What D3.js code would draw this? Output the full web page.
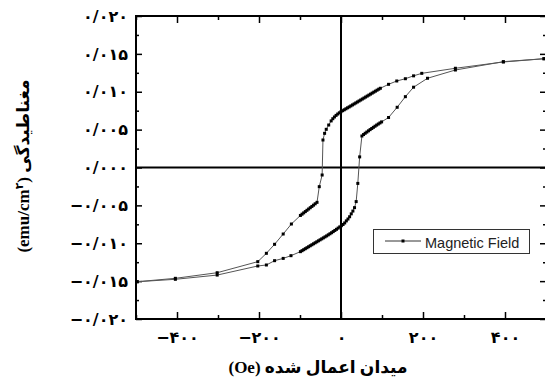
<!DOCTYPE html>
<html>
<head>
<meta charset="utf-8">
<script src="https://cdn.jsdelivr.net/npm/d3@7/dist/d3.min.js"></script>
<style>
body { margin: 0; background: #fff; }
svg { display: block; }
</style>
</head>
<body>
<div id="chart"></div>
<script>
// descending branch (field from +max to -max), [H (Oe), M (emu/cm2)]
const branchDown = [
    [495, 0.01436], [396, 0.01393], [279, 0.0131], [197, 0.01243], [177, 0.0121],
    [157, 0.01172], [136, 0.01142], [116, 0.01098], [96, 0.01046],
    [92, 0.01034], [88, 0.01021], [84, 0.01008], [80, 0.00995], [76, 0.00982],
    [72, 0.00969], [68, 0.00956], [64, 0.00943], [60, 0.0093], [56, 0.00917],
    [52, 0.00904], [48, 0.00891], [44, 0.00878], [40, 0.00865], [36, 0.00852],
    [32, 0.00839], [28, 0.00826], [24, 0.00813], [20, 0.008], [16, 0.00788],
    [12, 0.00775], [8, 0.00762], [4, 0.0075], [0, 0.00737], [-4, 0.00722],
    [-8, 0.00706], [-12, 0.00688], [-16, 0.00667], [-20, 0.00644], [-24, 0.00615],
    [-30, 0.00561], [-36, 0.00504], [-40, 0.00451], [-44, 0.00363],
    [-46, -0.00099], [-53, -0.00253], [-58.5, -0.0046],
    [-63, -0.00479], [-67, -0.00497], [-71, -0.00514], [-75, -0.00531],
    [-79, -0.00548], [-83, -0.00565], [-87, -0.00582], [-91, -0.00599],
    [-95, -0.00616], [-99, -0.00633],
    [-121, -0.00746], [-141, -0.00878], [-162, -0.01014], [-182, -0.01133],
    [-203, -0.01243], [-302, -0.01389], [-404, -0.01463], [-497, -0.01508]
];

// ascending branch (field from -max to +max)
const branchUp = [
    [-497, -0.01508], [-404, -0.01476], [-302, -0.0142], [-203, -0.013],
    [-182, -0.01287], [-162, -0.0123], [-141, -0.012], [-122, -0.01164],
    [-99, -0.01111], [-95, -0.01098], [-91, -0.01085], [-87, -0.01072],
    [-83, -0.01059], [-79, -0.01046], [-75, -0.01033], [-71, -0.0102],
    [-67, -0.01007], [-63, -0.00994], [-59, -0.00981], [-55, -0.00968],
    [-51, -0.00955], [-47, -0.00942], [-43, -0.00929], [-39, -0.00916],
    [-35, -0.00903], [-31, -0.00889], [-27, -0.00875], [-23, -0.00861],
    [-19, -0.00846], [-15, -0.00831], [-11, -0.00816], [-7, -0.008],
    [-3, -0.00784], [1, -0.00768], [5, -0.00752], [9, -0.00732],
    [13, -0.00705], [17, -0.0068], [21, -0.0065], [25, -0.00612],
    [29, -0.00575], [33, -0.0053], [37, -0.0045], [41, -0.0021],
    [45.5, 0.0014], [51, 0.00416],
    [55, 0.00435], [59, 0.00452], [63, 0.00468], [67, 0.00484], [71, 0.005],
    [75, 0.00515], [79, 0.0053], [83, 0.00545], [87, 0.0056], [91, 0.00574],
    [95, 0.00588], [99, 0.00602],
    [116, 0.0066], [137, 0.00795], [157, 0.00935], [177, 0.0106],
    [211, 0.01178], [279, 0.01287], [396, 0.01397], [495, 0.01436]
];

const xTicks = [-400, -200, 0, 200, 400];
const xMinor = [-500, -300, -100, 100, 300, 500];
const yTicks = [-0.02, -0.015, -0.01, -0.005, 0, 0.005, 0.01, 0.015, 0.02];
const yMinor = [-0.0175, -0.0125, -0.0075, -0.0025, 0.0025, 0.0075, 0.0125, 0.0175];
const seriesName = "Magnetic Field";

const width = 545, height = 380;
const plot = { left: 136, right: 546, top: 16, bottom: 319 };

const faDigits = "۰۱۲۳۴۵۶۷۸۹";
const toFa = s => s.replace(/\d/g, d => faDigits[d]).replace(".", "/").replace("-", "−");

const svg = d3.select("#chart")
    .append("svg")
    .attr("width", width)
    .attr("height", height);

const x = d3.scaleLinear().domain([-500, 500]).range([plot.left, plot.right]);
const y = d3.scaleLinear().domain([-0.02, 0.02]).range([plot.bottom, plot.top]);

const tickFont = g => g.selectAll("text")
    .style("font-family", "'DejaVu Sans', sans-serif")
    .style("font-weight", "bold")
    .style("font-size", "16px")
    .attr("fill", "#000");

// left axis
svg.append("g")
    .attr("transform", `translate(${plot.left},0)`)
    .call(d3.axisLeft(y).tickValues(yTicks).tickSize(-6).tickPadding(8)
        .tickFormat(d => toFa(d3.format(".3f")(d))))
    .call(g => g.select(".domain").remove())
    .call(tickFont);
svg.append("g")
    .attr("transform", `translate(${plot.left},0)`)
    .call(d3.axisLeft(y).tickValues(yMinor).tickSize(-3).tickFormat(""))
    .call(g => g.select(".domain").remove());

// right axis (ticks only)
svg.append("g")
    .attr("transform", `translate(${plot.right},0)`)
    .call(d3.axisRight(y).tickValues(yTicks).tickSize(-6).tickFormat(""))
    .call(g => g.select(".domain").remove());
svg.append("g")
    .attr("transform", `translate(${plot.right},0)`)
    .call(d3.axisRight(y).tickValues(yMinor).tickSize(-3).tickFormat(""))
    .call(g => g.select(".domain").remove());

// bottom axis
svg.append("g")
    .attr("transform", `translate(0,${plot.bottom})`)
    .call(d3.axisBottom(x).tickValues(xTicks).tickSize(-7).tickPadding(13)
        .tickFormat(d => toFa(String(d))))
    .call(g => g.select(".domain").remove())
    .call(tickFont);
svg.append("g")
    .attr("transform", `translate(0,${plot.bottom})`)
    .call(d3.axisBottom(x).tickValues(xMinor).tickSize(-4).tickFormat(""))
    .call(g => g.select(".domain").remove());

// top axis (ticks only)
svg.append("g")
    .attr("transform", `translate(0,${plot.top})`)
    .call(d3.axisTop(x).tickValues(xTicks).tickSize(-7).tickFormat(""))
    .call(g => g.select(".domain").remove());
svg.append("g")
    .attr("transform", `translate(0,${plot.top})`)
    .call(d3.axisTop(x).tickValues(xMinor).tickSize(-4).tickFormat(""))
    .call(g => g.select(".domain").remove());

svg.selectAll(".tick line").attr("stroke", "#000").attr("stroke-width", 1.5);

// frame
svg.append("rect")
    .attr("x", plot.left).attr("y", plot.top)
    .attr("width", plot.right - plot.left).attr("height", plot.bottom - plot.top)
    .attr("fill", "none").attr("stroke", "#000").attr("stroke-width", 2);

// zero lines
svg.append("line")
    .attr("x1", plot.left).attr("x2", plot.right)
    .attr("y1", y(0)).attr("y2", y(0))
    .attr("stroke", "#000").attr("stroke-width", 2);
svg.append("line")
    .attr("x1", x(0)).attr("x2", x(0))
    .attr("y1", plot.top).attr("y2", plot.bottom)
    .attr("stroke", "#000").attr("stroke-width", 2);

// loop
const line = d3.line().x(d => x(d[0])).y(d => y(d[1]));
[branchDown, branchUp].forEach(branch => {
    svg.append("path")
        .datum(branch)
        .attr("d", line)
        .attr("fill", "none")
        .attr("stroke", "#555")
        .attr("stroke-width", 1);
    svg.append("g")
        .selectAll("rect")
        .data(branch)
        .join("rect")
        .attr("x", d => x(d[0]) - 1.5)
        .attr("y", d => y(d[1]) - 1.5)
        .attr("width", 3)
        .attr("height", 3)
        .attr("fill", "#000");
});

// legend
const lg = svg.append("g");
lg.append("rect")
    .attr("x", 373.5).attr("y", 229.5).attr("width", 156).attr("height", 24)
    .attr("fill", "#fff").attr("stroke", "#333").attr("stroke-width", 1);
lg.append("line")
    .attr("x1", 385).attr("x2", 421).attr("y1", 241).attr("y2", 241)
    .attr("stroke", "#333").attr("stroke-width", 1);
lg.append("rect")
    .attr("x", 401.5).attr("y", 239.5).attr("width", 3).attr("height", 3)
    .attr("fill", "#000");
lg.append("text")
    .attr("x", 425).attr("y", 247.5)
    .style("font-family", "'Liberation Sans', Arial, sans-serif")
    .style("font-size", "14.5px")
    .attr("fill", "#222")
    .text(seriesName);

// axis titles
svg.append("text")
    .attr("x", 318).attr("y", 373)
    .attr("text-anchor", "middle")
    .style("font-family", "'Liberation Serif', 'DejaVu Sans', serif")
    .style("font-weight", "bold")
    .style("font-size", "17px")
    .text("(Oe) میدان اعمال شده");

const yt = svg.append("text")
    .attr("transform", "translate(29,166) rotate(-90)")
    .attr("text-anchor", "middle")
    .style("font-family", "'Liberation Serif', 'DejaVu Sans', serif")
    .style("font-weight", "bold")
    .style("font-size", "17px");
yt.append("tspan").text("(emu/cm");
yt.append("tspan").attr("dy", -6).style("font-size", "11px").text("۲");
yt.append("tspan").attr("dy", 6).text(") مغناطیدگی");
</script>
</body>
</html>
